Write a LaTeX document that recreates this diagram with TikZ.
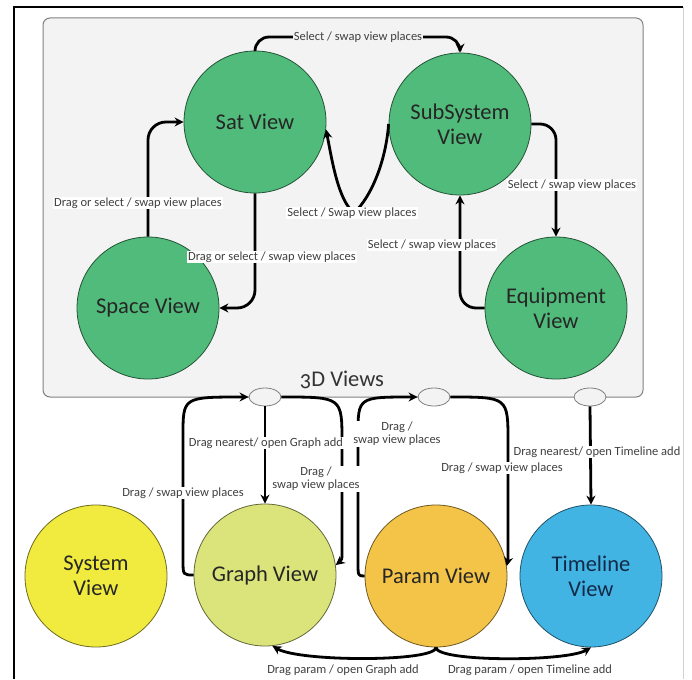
\documentclass[tikz,border=0pt]{standalone}
\usepackage{fontspec}
\setmainfont{Carlito}[Numbers=OldStyle]
\usepackage{tikz}
\usetikzlibrary{shapes,arrows.meta,positioning}
\definecolor{viewgreen}{RGB}{80,187,122}
\definecolor{sysyellow}{RGB}{240,235,62}
\definecolor{graphlime}{RGB}{218,228,122}
\definecolor{paramorange}{RGB}{244,196,72}
\definecolor{tlblue}{RGB}{66,180,228}
\definecolor{tlnavy}{RGB}{18,42,72}
\definecolor{boxgray}{RGB}{243,243,243}
\tikzstyle{vnode} = [circle, draw, line width=0.8pt, minimum size=142pt, inner sep=0pt, align=center, text=black!85, font=\fontsize{22.5}{25}\selectfont]
\tikzstyle{knob} = [ellipse, draw=gray, fill=boxgray, line width=0.8pt, minimum width=32pt, minimum height=18pt, inner sep=0pt]
\tikzstyle{line} = [draw, line width=2.8pt, -{Stealth[length=9pt,width=9pt]}]
\tikzstyle{lbl} = [fill=white, inner sep=1pt, align=center, text=black!75, font=\fontsize{12.5}{13}\selectfont]

\begin{document}
\begin{tikzpicture}[x=1pt, y=-1pt]
			\useasboundingbox (0,0) rectangle (692,679);
			\draw [line width=1.2pt] (14,679) -- (14,7) -- (683,7);
			\draw [gray!35, line width=0.8pt] (683,7) -- (683,679);
			\draw [gray, fill=boxgray, line width=1pt, rounded corners=7pt] (43,18) rectangle (643,397);
			\node [font=\fontsize{22.5}{25}\selectfont, text=black!80] (views) at (342,380) {3D Views};

			\node [vnode, fill=viewgreen, draw=viewgreen!45!black] (sat) at (255,122) {Sat View};
			\node [vnode, fill=viewgreen, draw=viewgreen!45!black] (sub) at (460,124) {SubSystem\\View};
			\node [vnode, fill=viewgreen, draw=viewgreen!45!black] (space) at (148,308) {Space View};
			\node [vnode, fill=viewgreen, draw=viewgreen!45!black] (equip) at (556,308) {Equipment\\View};
			\node [vnode, fill=sysyellow, draw=sysyellow!45!black] (sys) at (96,576) {System\\View};
			\node [vnode, fill=graphlime, draw=graphlime!45!black] (graph) at (265,575) {Graph View};
			\node [vnode, fill=paramorange, draw=paramorange!45!black] (param) at (436,576) {Param View};
			\node [vnode, fill=tlblue, draw=tlblue!45!black, text=tlnavy] (tline) at (591,576) {Timeline\\View};

			\node [knob] (k1) at (265,397) {};
			\node [knob] (k2) at (434,397) {};
			\node [knob] (k3) at (590,397) {};

			\path [line, rounded corners=14pt] (sat.north) |- (358,37) -| (sub.north);
			\path [line, rounded corners=18pt] (space.north) |- (sat.west);
			\path [line, rounded corners=18pt] (sat.south) |- (space.east);
			\path [line] (sub.west) .. controls (386,160) and (372,196) .. (354,213) .. controls (338,200) and (332,160) .. (sat.-6);
			\path [line, rounded corners=16pt] (sub.east) -| (equip.north);
			\path [line, rounded corners=16pt] (equip.west) -| (sub.south);

			\path [line] (k1.south) -- (graph.north);
			\path [line] (graph.west) .. controls (183,575) .. (183,560) -- (183,435) .. controls (183,397) .. (k1.west);
			\path [line] (k1.east) .. controls (342,397) .. (342,442) -- (342,548) .. controls (342,560) .. (graph.8);
			\path [line] (param.west) .. controls (358,576) .. (358,562) -- (358,435) .. controls (358,397) .. (k2.west);
			\path [line] (k2.east) .. controls (508,397) .. (508,442) -- (508,548) .. controls (508,560) .. (param.8);
			\path [line] (k3.south) -- (tline.north);
			\path [line] (param.south) .. controls (436,662) and (300,662) .. (graph.-84);
			\path [line] (param.south) .. controls (436,662) and (566,662) .. (tline.-90);

			\node [lbl, fill=boxgray] (l1) at (358,37) {Select / swap view places};
			\node [lbl] (l2) at (138,203) {Drag or select / swap view places};
			\node [lbl] (l3) at (272,257) {Drag or select / swap view places};
			\node [lbl] (l4) at (352,213) {Select / Swap view places};
			\node [lbl] (l5) at (572,185) {Select / swap view places};
			\node [lbl] (l6) at (432,245) {Select / swap view places};
			\node [lbl] (l7) at (266,443) {Drag nearest/ open Graph add};
			\node [lbl] (l8) at (183,493) {Drag / swap view places};
			\node [lbl] (l9) at (316,479) {Drag /\\swap view places};
			\node [lbl] (l10) at (397,434) {Drag /\\swap view places};
			\node [lbl] (l11) at (502,468) {Drag / swap view places};
			\node [lbl] (l12) at (597,452) {Drag nearest/ open Timeline add};
			\node [lbl] (l13) at (343,670) {Drag param / open Graph add};
			\node [lbl] (l14) at (530,670) {Drag param / open Timeline add};
		\end{tikzpicture}
\end{document}
